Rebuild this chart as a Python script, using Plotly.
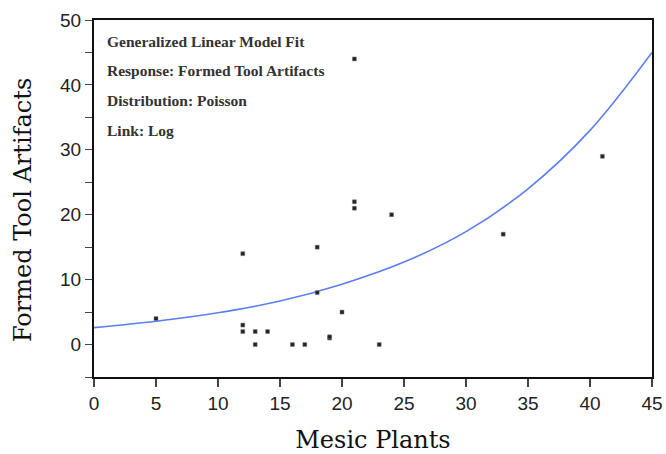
import plotly.graph_objects as go

# Observed data points
mesic_x = [5, 12, 12, 12, 13, 13, 14, 16, 17, 18, 18, 19, 19, 20, 21, 21, 21, 23, 24, 33, 41]
tools_y = [4, 14, 3, 2, 2, 0, 2, 0, 0, 15, 8, 1, 1.2, 5, 44, 22, 21, 0, 20, 17, 29]

# Fitted curve
fit_x = [0, 5, 10, 15, 20, 25, 30, 35, 40, 45]
fit_y = [2.6, 3.6, 4.9, 6.7, 9.3, 12.7, 17.4, 24.0, 33.0, 45.0]

x_ticks = [0, 5, 10, 15, 20, 25, 30, 35, 40, 45]
y_ticks = [0, 10, 20, 30, 40, 50]

info_lines = ["Generalized Linear Model Fit", "Response: Formed Tool Artifacts",
              "Distribution: Poisson", "Link: Log"]
x_title = "Mesic Plants"
y_title = "Formed Tool Artifacts"

fig = go.Figure()
fig.add_trace(go.Scatter(x=fit_x, y=fit_y, mode="lines", line=dict(color="#5b7ef0", width=1.6, shape="spline"),
                         hoverinfo="skip"))
fig.add_trace(go.Scatter(x=mesic_x, y=tools_y, mode="markers",
                         marker=dict(symbol="square", size=4, color="#222222",
                                     line=dict(color="#888888", width=0.5))))

ann_y = [0.941, 0.858, 0.774, 0.690]
for txt, yy in zip(info_lines, ann_y):
    fig.add_annotation(text="<b>" + txt + "</b>", xref="paper", yref="paper", x=0.02, y=yy, xanchor="left", yanchor="middle",
                       showarrow=False, font=dict(family="Liberation Serif", size=15.5, color="#333333"))

# y-axis title as a rotated annotation (sits a little below the plot centre in the reference)
fig.add_annotation(text=y_title, xref="paper", yref="paper", x=-0.127, y=0.468, xanchor="center", yanchor="middle",
                   textangle=-90, showarrow=False, font=dict(family="DejaVu Serif", size=24, color="#111"))

fig.update_layout(
    width=666, height=454,
    margin=dict(l=94, r=14, t=20, b=77),
    paper_bgcolor="white", plot_bgcolor="white",
    showlegend=False,
    xaxis=dict(range=[0, 45], tickvals=x_ticks, ticks="outside", ticklen=8, tickwidth=1.6, automargin=False,
               showline=True, linecolor="#111", linewidth=2, mirror=True, showgrid=False, zeroline=False,
               tickfont=dict(family="Liberation Sans", size=19, color="#222"),
               title=dict(text=x_title, font=dict(family="DejaVu Serif", size=24, color="#111"), standoff=19)),
    yaxis=dict(range=[-5, 50], tickvals=y_ticks, ticks="outside", ticklen=7, tickwidth=1.4, automargin=False,
               minor=dict(dtick=10, tick0=-5, ticks="outside", ticklen=7, tickwidth=1.4, showgrid=False),
               showline=True, linecolor="#111", linewidth=2, mirror=True, showgrid=False, zeroline=False,
               tickfont=dict(family="Liberation Sans", size=19, color="#222")),
)

fig.write_html("out.html", config={"displayModeBar": False},
               post_script="document.body.style.margin='0px';")
